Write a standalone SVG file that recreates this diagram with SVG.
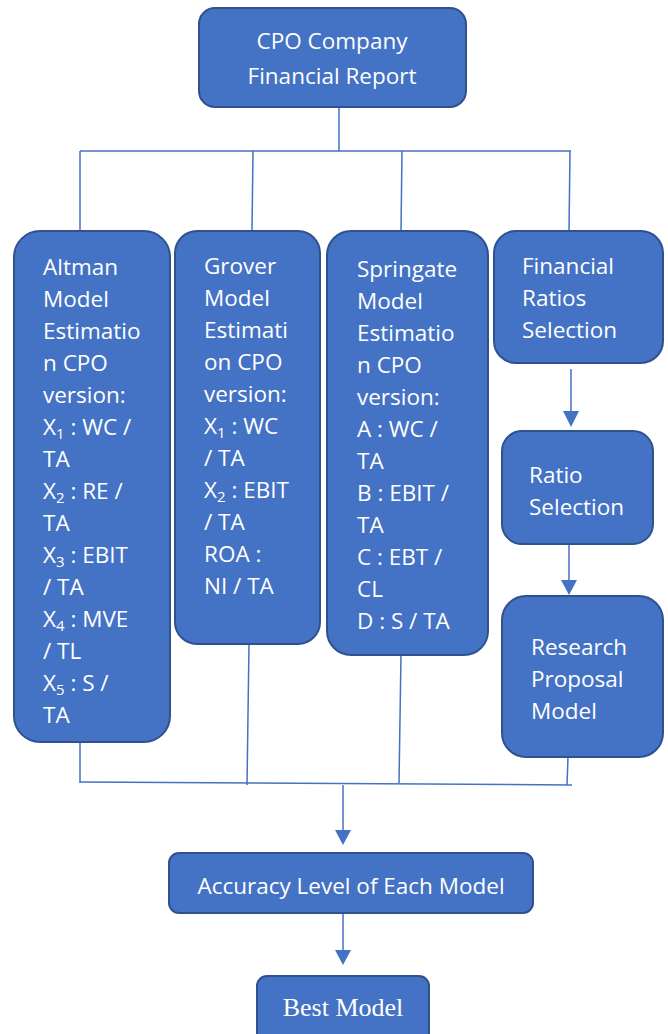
<svg xmlns="http://www.w3.org/2000/svg" width="668" height="1034" viewBox="0 0 668 1034">
<defs>
<style>
.box{fill:#4472C4;stroke:#2F528F;stroke-width:2}
.t{font-family:"Open Sans","Noto Sans",sans-serif;font-size:22.5px;fill:#ffffff}
.s{font-size:15px}
.serif{font-family:"Liberation Serif","Times New Roman",serif;font-size:26px;fill:#ffffff}
.ln{stroke:#4472C4;stroke-width:1.5;fill:none}
.ah{fill:#4472C4}
</style>
</defs>
<rect width="668" height="1034" fill="#ffffff"/>
<g id="connectors">
<line class="ln" x1="339" y1="108" x2="339" y2="151"/>
<line class="ln" x1="80" y1="151" x2="571" y2="151"/>
<line class="ln" x1="80" y1="151" x2="80" y2="231"/>
<line class="ln" x1="253" y1="151" x2="252" y2="231"/>
<line class="ln" x1="402" y1="151" x2="401" y2="231"/>
<line class="ln" x1="570" y1="151" x2="569" y2="231"/>
<line class="ln" x1="80" y1="742" x2="80" y2="783"/>
<line class="ln" x1="249" y1="644" x2="247" y2="785"/>
<line class="ln" x1="401" y1="655" x2="399" y2="783"/>
<line class="ln" x1="568" y1="757" x2="567" y2="785"/>
<line class="ln" x1="80" y1="782" x2="572" y2="785"/>
<line class="ln" x1="571" y1="369" x2="571" y2="411"/>
<path class="ah" d="M563,411 L579,411 L571,427 Z"/>
<line class="ln" x1="569" y1="544" x2="569" y2="583"/>
<path class="ah" d="M561,580 L577,580 L569,595 Z"/>
<line class="ln" x1="343" y1="785" x2="343" y2="830"/>
<path class="ah" d="M335,830 L351,830 L343,845 Z"/>
<line class="ln" x1="343" y1="913" x2="343" y2="950"/>
<path class="ah" d="M335,950 L351,950 L343,965 Z"/>
</g>
<g id="top">
<rect class="box" x="199" y="8" width="267" height="99" rx="16"/>
<text class="t" x="332" y="49" text-anchor="middle">CPO Company</text>
<text class="t" x="332" y="84" text-anchor="middle">Financial Report</text>
</g>
<g id="altman">
<rect class="box" x="14" y="231" width="156" height="511" rx="26"/>
<text class="t">
<tspan x="43" y="275">Altman</tspan>
<tspan x="43" y="307">Model</tspan>
<tspan x="43" y="339">Estimatio</tspan>
<tspan x="43" y="371">n CPO</tspan>
<tspan x="43" y="403">version:</tspan>
<tspan x="43" y="435">X</tspan><tspan class="s" dy="4">1</tspan><tspan dy="-4"> : WC /</tspan>
<tspan x="43" y="467">TA</tspan>
<tspan x="43" y="499">X</tspan><tspan class="s" dy="4">2</tspan><tspan dy="-4"> : RE /</tspan>
<tspan x="43" y="531">TA</tspan>
<tspan x="43" y="563">X</tspan><tspan class="s" dy="4">3</tspan><tspan dy="-4"> : EBIT</tspan>
<tspan x="43" y="595">/ TA</tspan>
<tspan x="43" y="627">X</tspan><tspan class="s" dy="4">4</tspan><tspan dy="-4"> : MVE</tspan>
<tspan x="43" y="659">/ TL</tspan>
<tspan x="43" y="691">X</tspan><tspan class="s" dy="4">5</tspan><tspan dy="-4"> : S /</tspan>
<tspan x="43" y="723">TA</tspan>
</text>
</g>
<g id="grover">
<rect class="box" x="175" y="231" width="145" height="413" rx="22"/>
<text class="t">
<tspan x="204" y="274">Grover</tspan>
<tspan x="204" y="306">Model</tspan>
<tspan x="204" y="338">Estimati</tspan>
<tspan x="204" y="370">on CPO</tspan>
<tspan x="204" y="402">version:</tspan>
<tspan x="204" y="434">X</tspan><tspan class="s" dy="4">1</tspan><tspan dy="-4"> : WC</tspan>
<tspan x="204" y="466">/ TA</tspan>
<tspan x="204" y="498">X</tspan><tspan class="s" dy="4">2</tspan><tspan dy="-4"> : EBIT</tspan>
<tspan x="204" y="530">/ TA</tspan>
<tspan x="204" y="562">ROA :</tspan>
<tspan x="204" y="594">NI / TA</tspan>
</text>
</g>
<g id="springate">
<rect class="box" x="327" y="231" width="161" height="424" rx="24"/>
<text class="t">
<tspan x="357" y="277">Springate</tspan>
<tspan x="357" y="309">Model</tspan>
<tspan x="357" y="341">Estimatio</tspan>
<tspan x="357" y="373">n CPO</tspan>
<tspan x="357" y="405">version:</tspan>
<tspan x="357" y="437">A : WC /</tspan>
<tspan x="357" y="469">TA</tspan>
<tspan x="357" y="501">B : EBIT /</tspan>
<tspan x="357" y="533">TA</tspan>
<tspan x="357" y="565">C : EBT /</tspan>
<tspan x="357" y="597">CL</tspan>
<tspan x="357" y="629">D : S / TA</tspan>
</text>
</g>
<g id="fin-ratios">
<rect class="box" x="494" y="231" width="169" height="132" rx="22"/>
<text class="t">
<tspan x="522" y="274">Financial</tspan>
<tspan x="522" y="306">Ratios</tspan>
<tspan x="522" y="338">Selection</tspan>
</text>
</g>
<g id="ratio-selection">
<rect class="box" x="502" y="431" width="151" height="113" rx="20"/>
<text class="t">
<tspan x="529" y="483">Ratio</tspan>
<tspan x="529" y="515">Selection</tspan>
</text>
</g>
<g id="research">
<rect class="box" x="502" y="596" width="161" height="161" rx="24"/>
<text class="t">
<tspan x="531" y="655">Research</tspan>
<tspan x="531" y="687">Proposal</tspan>
<tspan x="531" y="719">Model</tspan>
</text>
</g>
<g id="accuracy">
<rect class="box" x="169" y="853" width="364" height="60" rx="10"/>
<text class="t" x="351" y="894" text-anchor="middle">Accuracy Level of Each Model</text>
</g>
<g id="best">
<rect class="box" x="257" y="976" width="172" height="70" rx="10"/>
<text class="serif" x="343" y="1016" text-anchor="middle">Best Model</text>
</g>
</svg>
